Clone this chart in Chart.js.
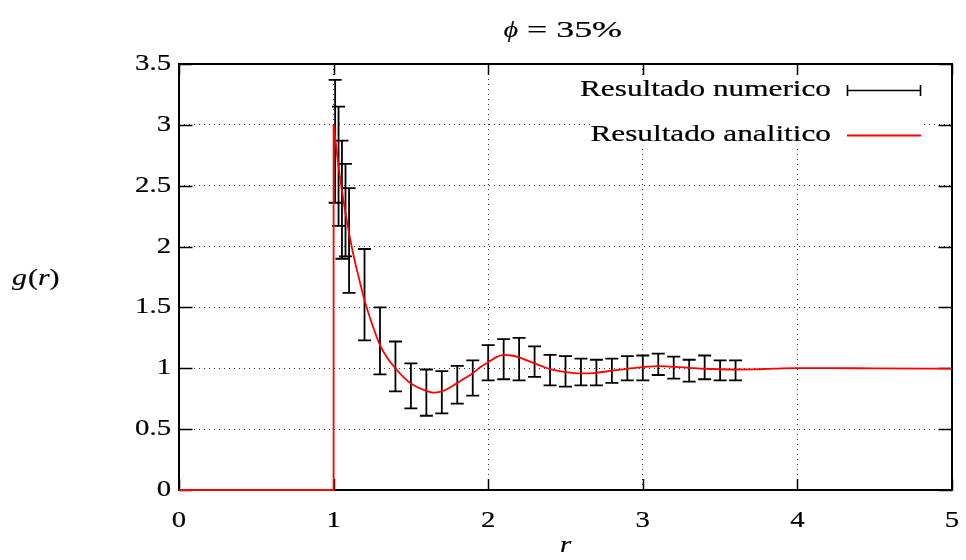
<!DOCTYPE html>
<html><head><meta charset="utf-8">
<script src="https://cdn.jsdelivr.net/npm/chart.js@4.4.1/dist/chart.umd.min.js"></script>
<style>html,body{margin:0;padding:0;background:#fff}#wrap{width:966px;height:560px;position:relative}</style>
</head><body><div id="wrap"><canvas id="c" width="966" height="560"></canvas></div>
<script>
// ---- data ----
const titleMain = "\u03D5";
const titleRest = "= 35%";
const xLabel = "r";
const yLabelParts = ["g", "(", "r", ")"];
const legendNum = "Resultado numerico";
const legendAna = "Resultado analitico";
const xTickValues = [0, 1, 2, 3, 4, 5];
const xTickLabels = ["0", "1", "2", "3", "4", "5"];
const yTickValues = [0, 0.5, 1, 1.5, 2, 2.5, 3, 3.5];
const yTickLabels = ["0", "0.5", "1", "1.5", "2", "2.5", "3", "3.5"];

// numerical result: r, lower and upper end of each error bar
const numR    = [1.01, 1.032, 1.054, 1.077, 1.10, 1.2, 1.3, 1.4, 1.5, 1.6, 1.7, 1.8, 1.9, 2.0, 2.1, 2.2, 2.3, 2.4, 2.5, 2.6, 2.7, 2.8, 2.9, 3.0, 3.1, 3.2, 3.3, 3.4, 3.5, 3.6];
const numLow  = [2.36, 2.17, 1.90, 1.92, 1.62, 1.23, 0.95, 0.81, 0.67, 0.61, 0.63, 0.71, 0.775, 0.90, 0.91, 0.90, 0.93, 0.86, 0.85, 0.86, 0.86, 0.88, 0.90, 0.90, 0.945, 0.915, 0.89, 0.91, 0.90, 0.90];
const numHigh = [3.37, 3.15, 2.87, 2.68, 2.48, 1.98, 1.50, 1.22, 1.04, 0.99, 0.977, 1.02, 1.065, 1.19, 1.24, 1.25, 1.18, 1.11, 1.10, 1.08, 1.07, 1.08, 1.10, 1.105, 1.12, 1.095, 1.07, 1.105, 1.065, 1.065];

// analytic result
const stepR = [0, 1, 1];
const stepG = [0, 0, 3.0];
const anaR = [1.00, 1.04, 1.074, 1.10, 1.13, 1.16, 1.20, 1.25, 1.30, 1.35, 1.40, 1.45, 1.50, 1.55, 1.60, 1.64, 1.70, 1.75, 1.80, 1.85, 1.90, 1.95, 2.00, 2.05, 2.10, 2.15, 2.20, 2.25, 2.30, 2.35, 2.40, 2.50, 2.60, 2.70, 2.80, 2.90, 3.00, 3.10, 3.20, 3.30, 3.40, 3.50, 3.60, 3.70, 3.80, 3.90, 4.00, 4.20, 4.50, 5.00];
const anaG = [3.00, 2.58, 2.30, 2.11, 1.92, 1.76, 1.56, 1.36, 1.19, 1.08, 1.00, 0.93, 0.875, 0.84, 0.815, 0.80, 0.81, 0.84, 0.88, 0.92, 0.96, 1.01, 1.05, 1.09, 1.11, 1.105, 1.09, 1.065, 1.04, 1.015, 0.993, 0.969, 0.958, 0.963, 0.98, 0.996, 1.01, 1.018, 1.012, 1.004, 0.996, 0.992, 0.99, 0.991, 0.995, 1.0, 1.002, 1.002, 0.999, 0.997];

// ---- drawing helpers ----
const FONT = '"Liberation Serif", "Times New Roman", serif';
const SX = 1.25;
function sText(ctx, txt, x, y, align, font, sx) {
  ctx.save();
  ctx.font = font;
  ctx.fillStyle = '#000';
  ctx.strokeStyle = '#000';
  ctx.lineWidth = 0.2;
  ctx.textBaseline = 'middle';
  ctx.textAlign = align;
  ctx.translate(x, y);
  ctx.scale(sx, 1);
  ctx.fillText(txt, 0, 0);
  ctx.strokeText(txt, 0, 0);
  ctx.restore();
}
function textW(ctx, txt, font) {
  ctx.save(); ctx.font = font; const m = ctx.measureText(txt).width; ctx.restore();
  return m;
}
function fitSx(ctx, txt, font, w) { return w / textW(ctx, txt, font); }

const gnuplotLook = {
  id: 'gnuplotLook',
  beforeDatasetsDraw(chart) {
    const {ctx, chartArea: a, scales: {x, y}} = chart;
    ctx.save();
    // opaque key box
    ctx.fillStyle = '#fff';
    ctx.fillRect(593, 75, 330, 72);
    // frame
    ctx.strokeStyle = '#000';
    ctx.lineWidth = 2;
    ctx.strokeRect(a.left, a.top, a.right - a.left, a.bottom - a.top);
    // inward ticks
    ctx.lineWidth = 1.5;
    ctx.beginPath();
    yTickValues.forEach(v => {
      const py = Math.round(y.getPixelForValue(v)) + 0.5;
      ctx.moveTo(a.left, py); ctx.lineTo(a.left + 13.5, py);
      ctx.moveTo(a.right, py); ctx.lineTo(a.right - 13.5, py);
    });
    xTickValues.forEach(v => {
      const px = Math.round(x.getPixelForValue(v)) + 0.5;
      ctx.moveTo(px, a.bottom); ctx.lineTo(px, a.bottom - 11);
      ctx.moveTo(px, a.top); ctx.lineTo(px, a.top + 11);
    });
    ctx.stroke();
    // error bars
    ctx.lineWidth = 1.8;
    ctx.strokeStyle = '#000';
    ctx.beginPath();
    const cap = 6.5;
    numR.forEach((r, i) => {
      const px = x.getPixelForValue(r);
      const p1 = y.getPixelForValue(numLow[i]);
      const p2 = y.getPixelForValue(numHigh[i]);
      ctx.moveTo(px, p1); ctx.lineTo(px, p2);
      ctx.moveTo(px - cap, p1); ctx.lineTo(px + cap, p1);
      ctx.moveTo(px - cap, p2); ctx.lineTo(px + cap, p2);
    });
    ctx.stroke();
    ctx.restore();
  },
  afterDraw(chart) {
    const {ctx, chartArea: a, scales: {x, y}} = chart;
    const f = '23px ' + FONT;
    const fi = 'italic 23px ' + FONT;
    yTickValues.forEach((v, i) => {
      sText(ctx, yTickLabels[i], 171, y.getPixelForValue(v), 'right', f, SX);
    });
    xTickValues.forEach((v, i) => {
      sText(ctx, xTickLabels[i], x.getPixelForValue(v), 521, 'center', f, SX);
    });
    // title
    sText(ctx, titleMain, 511, 31, 'center', fi, 1.2);
    sText(ctx, titleRest, 527, 31, 'left', f, fitSx(ctx, titleRest, f, 95));
    // axis labels
    sText(ctx, xLabel, (a.left + a.right) / 2, 546, 'center', fi, 1.25);
    let gx = 12;
    const ysx = 1.3;
    yLabelParts.forEach((p, i) => {
      const ff = (i % 2 === 0) ? fi : f;
      sText(ctx, p, gx, 279, 'left', ff, ysx);
      gx += textW(ctx, p, ff) * ysx + (i === 0 ? 1 : 0);
    });
    // legend
    const lsx = fitSx(ctx, legendNum, f, 251);
    sText(ctx, legendNum, 831, 90, 'right', f, lsx);
    sText(ctx, legendAna, 831, 135, 'right', f, lsx);
    ctx.save();
    ctx.strokeStyle = '#000';
    ctx.lineWidth = 1.6;
    ctx.beginPath();
    ctx.moveTo(847, 90.5); ctx.lineTo(921, 90.5);
    ctx.moveTo(847.5, 85); ctx.lineTo(847.5, 96);
    ctx.moveTo(920.5, 85); ctx.lineTo(920.5, 96);
    ctx.stroke();
    ctx.strokeStyle = '#ff0000';
    ctx.lineWidth = 1.8;
    ctx.beginPath();
    ctx.moveTo(847, 135.5); ctx.lineTo(921, 135.5);
    ctx.stroke();
    ctx.restore();
  }
};

const gridOpts = {
  color: 'rgba(0,0,0,0.8)',
  lineWidth: 1,
  drawTicks: false
};

new Chart(document.getElementById('c'), {
  type: 'scatter',
  data: {
    datasets: [
      {
        label: legendNum,
        data: numR.map((r, i) => ({x: r, y: (numLow[i] + numHigh[i]) / 2})),
        pointRadius: 0,
        showLine: false
      },
      {
        label: legendAna,
        data: stepR.map((r, i) => ({x: r, y: stepG[i]})),
        showLine: true,
        borderColor: '#ff0000',
        borderWidth: 1.8,
        pointRadius: 0,
        tension: 0,
        clip: 6
      },
      {
        label: legendAna,
        data: anaR.map((r, i) => ({x: r, y: anaG[i]})),
        showLine: true,
        borderColor: '#ff0000',
        borderWidth: 1.8,
        pointRadius: 0,
        tension: 0,
        cubicInterpolationMode: 'monotone',
        clip: 6
      }
    ]
  },
  options: {
    responsive: false,
    animation: false,
    devicePixelRatio: 1,
    layout: {padding: {left: 0, right: 14, top: 64, bottom: 0}},
    plugins: {legend: {display: false}, tooltip: {enabled: false}, title: {display: false}},
    scales: {
      x: {
        type: 'linear', min: 0, max: 5,
        ticks: {stepSize: 1, display: false},
        grid: gridOpts,
        border: {display: false, dash: [1, 4]},
        afterFit(s) { s.height = 70; }
      },
      y: {
        type: 'linear', min: 0, max: 3.5,
        ticks: {stepSize: 0.5, display: false},
        grid: gridOpts,
        border: {display: false, dash: [1, 4]},
        afterFit(s) { s.width = 179; }
      }
    }
  },
  plugins: [gnuplotLook]
});
</script>
</body></html>
